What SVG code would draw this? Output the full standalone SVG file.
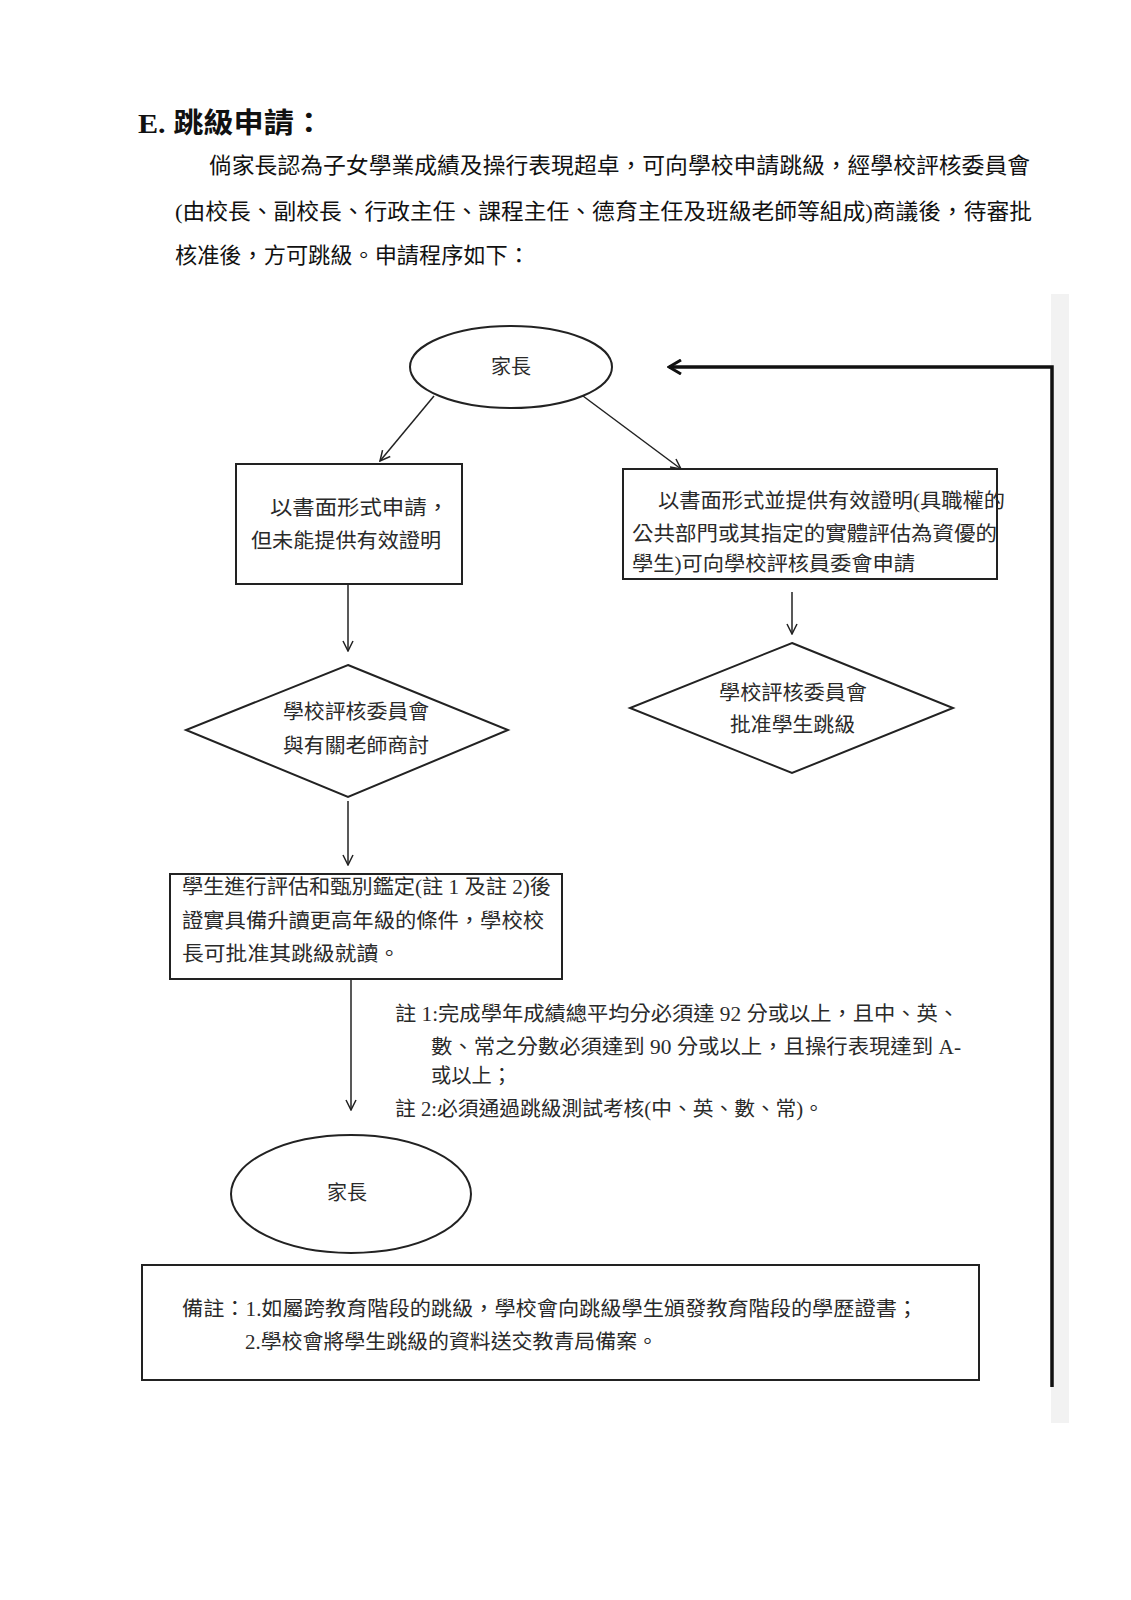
<svg xmlns="http://www.w3.org/2000/svg" width="1131" height="1600" viewBox="0 0 1131 1600">
<style>
.t{font-family:"Liberation Serif","Noto Sans CJK TC",serif;fill:#111;}
.f{font-family:"Liberation Serif","Noto Sans CJK TC",serif;fill:#2a2a2a;font-size:20px;}
.box{fill:none;stroke:#222;stroke-width:2;}
.con{fill:none;stroke:#222;stroke-width:1.5;}
</style>
<defs>
<marker id="ah" viewBox="0 0 12 12" refX="11" refY="6" markerWidth="12" markerHeight="12" markerUnits="userSpaceOnUse" orient="auto">
<path d="M1,1 L11,6 L1,11" fill="none" stroke="#222" stroke-width="1.5"/>
</marker>
<marker id="ahb" viewBox="0 0 16 16" refX="14" refY="8" markerWidth="16" markerHeight="16" markerUnits="userSpaceOnUse" orient="auto">
<path d="M2,1 L14,8 L2,15" fill="none" stroke="#111" stroke-width="3"/>
</marker>
</defs>
<rect width="1131" height="1600" fill="#fff"/>

<!-- header text -->
<text class="t" x="138" y="133" font-size="28" font-weight="bold" textLength="186" lengthAdjust="spacingAndGlyphs">E. 跳級申請：</text>
<text class="t" x="209" y="173" font-size="22" textLength="821" lengthAdjust="spacingAndGlyphs">倘家長認為子女學業成績及操行表現超卓，可向學校申請跳級，經學校評核委員會</text>
<text class="t" x="175" y="219" font-size="22" textLength="857" lengthAdjust="spacingAndGlyphs">(由校長、副校長、行政主任、課程主任、德育主任及班級老師等組成)商議後，待審批</text>
<text class="t" x="175" y="263" font-size="22" textLength="355" lengthAdjust="spacingAndGlyphs">核准後，方可跳級。申請程序如下：</text>

<!-- side band -->
<rect x="1051" y="294" width="18" height="1129" fill="#f2f2f2"/>

<g id="connectors">
<line class="con" x1="434" y1="396" x2="380" y2="461" marker-end="url(#ah)"/>
<line class="con" x1="583" y1="396" x2="681" y2="469" marker-end="url(#ah)"/>
<line class="con" x1="348" y1="584" x2="348" y2="651" marker-end="url(#ah)"/>
<line class="con" x1="792" y1="592" x2="792" y2="634" marker-end="url(#ah)"/>
<line class="con" x1="348" y1="801" x2="348" y2="865" marker-end="url(#ah)"/>
<line class="con" x1="351" y1="979" x2="351" y2="1110" marker-end="url(#ah)"/>
<path d="M1052,1387 L1052,367 L669,367" fill="none" stroke="#111" stroke-width="3.5" marker-end="url(#ahb)"/>
</g>

<g id="parent-top">
<ellipse class="box" cx="511" cy="367" rx="101" ry="41"/>
<text class="f" x="511" y="374" font-size="19" text-anchor="middle">家長</text>
</g>

<g id="apply-no-proof">
<rect class="box" x="236" y="464" width="226" height="120"/>
<text class="f" x="270" y="515" textLength="179" lengthAdjust="spacingAndGlyphs">以書面形式申請，</text>
<text class="f" x="251" y="548" textLength="190" lengthAdjust="spacingAndGlyphs">但未能提供有效證明</text>
</g>

<g id="apply-with-proof">
<rect class="box" x="623" y="469" width="374" height="110"/>
<text class="f" x="658" y="508" textLength="347" lengthAdjust="spacingAndGlyphs">以書面形式並提供有效證明(具職權的</text>
<text class="f" x="632" y="541" textLength="365" lengthAdjust="spacingAndGlyphs">公共部門或其指定的實體評估為資優的</text>
<text class="f" x="632" y="571" textLength="283" lengthAdjust="spacingAndGlyphs">學生)可向學校評核員委會申請</text>
</g>

<g id="committee-discuss">
<polygon class="box" points="348,665 508,730 348,797 186,730"/>
<text class="f" x="283" y="719" textLength="146" lengthAdjust="spacingAndGlyphs">學校評核委員會</text>
<text class="f" x="283" y="753" textLength="146" lengthAdjust="spacingAndGlyphs">與有關老師商討</text>
</g>

<g id="committee-approve">
<polygon class="box" points="792,643 953,708 792,773 630,708"/>
<text class="f" x="719" y="700" textLength="148" lengthAdjust="spacingAndGlyphs">學校評核委員會</text>
<text class="f" x="730" y="732" textLength="125" lengthAdjust="spacingAndGlyphs">批准學生跳級</text>
</g>

<g id="assessment">
<rect class="box" x="170" y="874" width="392" height="105"/>
<text class="f" x="182" y="894" textLength="369" lengthAdjust="spacingAndGlyphs">學生進行評估和甄別鑑定(註 1 及註 2)後</text>
<text class="f" x="182" y="928" textLength="362" lengthAdjust="spacingAndGlyphs">證實具備升讀更高年級的條件，學校校</text>
<text class="f" x="182" y="961" textLength="218" lengthAdjust="spacingAndGlyphs">長可批准其跳級就讀。</text>
</g>

<g id="notes">
<text class="f" x="395" y="1021" textLength="564" lengthAdjust="spacingAndGlyphs">註 1:完成學年成績總平均分必須達 92 分或以上，且中、英、</text>
<text class="f" x="431" y="1054" textLength="530" lengthAdjust="spacingAndGlyphs">數、常之分數必須達到 90 分或以上，且操行表現達到 A-</text>
<text class="f" x="431" y="1083" textLength="81" lengthAdjust="spacingAndGlyphs">或以上；</text>
<text class="f" x="395" y="1116" textLength="429" lengthAdjust="spacingAndGlyphs">註 2:必須通過跳級測試考核(中、英、數、常)。</text>
</g>

<g id="parent-bottom">
<ellipse class="box" cx="351" cy="1194" rx="120" ry="59"/>
<text class="f" x="347" y="1200" font-size="19" text-anchor="middle">家長</text>
</g>

<g id="remarks">
<rect class="box" x="142" y="1265" width="837" height="115"/>
<text class="f" x="182" y="1316" textLength="736" lengthAdjust="spacingAndGlyphs">備註：1.如屬跨教育階段的跳級，學校會向跳級學生頒發教育階段的學歷證書；</text>
<text class="f" x="245" y="1349" textLength="413" lengthAdjust="spacingAndGlyphs">2.學校會將學生跳級的資料送交教青局備案。</text>
</g>
</svg>
